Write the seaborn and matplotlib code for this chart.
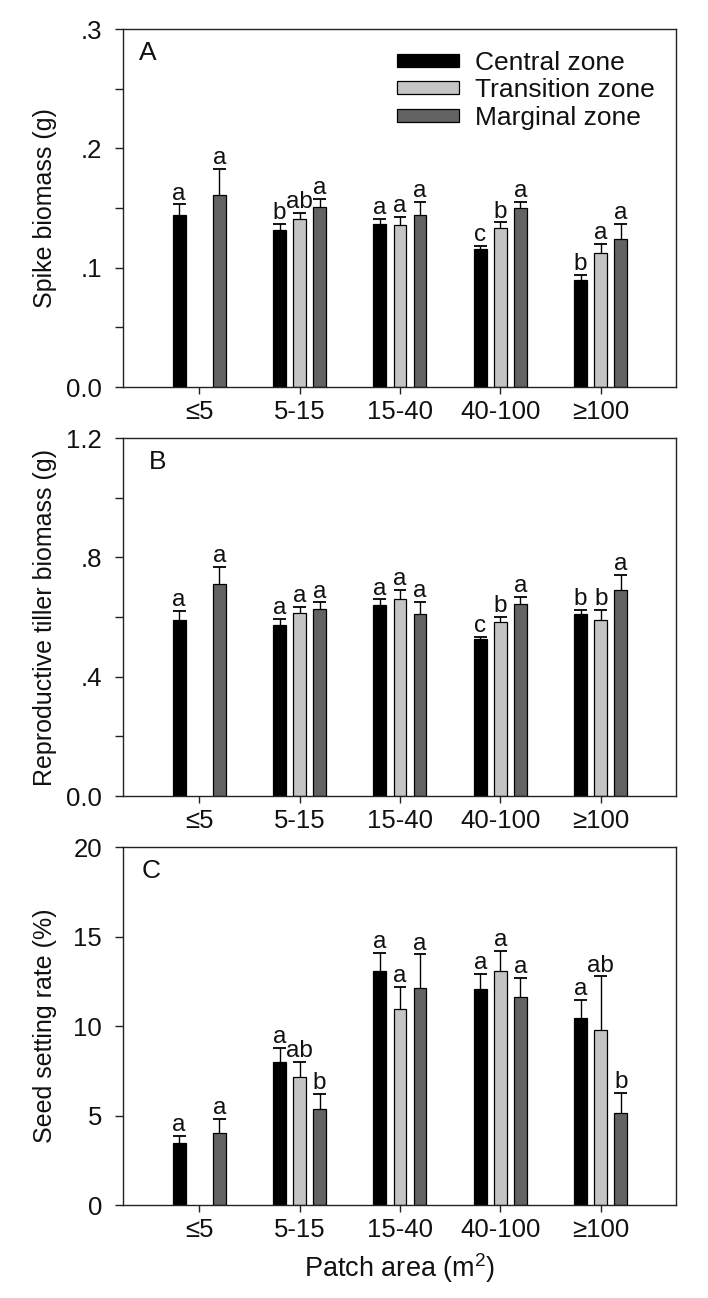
import numpy as np
import pandas as pd
import matplotlib
matplotlib.use("Agg")
import matplotlib.pyplot as plt
import matplotlib.colors as mcolors
import seaborn as sns

nan = np.nan

# Categories and zones

categories = ["≤5", "5-15", "15-40", "40-100", "≥100"]
zones = ["Central zone", "Transition zone", "Marginal zone"]
zone_colors = ["#000000", "#c4c4c4", "#636363"]

# Panel A - spike biomass (g)

spike_central = [0.144, 0.132, 0.137, 0.116, 0.090]
spike_transition = [nan, 0.141, 0.136, 0.133, 0.112]
spike_marginal = [0.161, 0.151, 0.144, 0.150, 0.124]
spike_central_se = [0.009, 0.0045, 0.004, 0.0022, 0.0042]
spike_transition_se = [nan, 0.005, 0.0067, 0.005, 0.0079]
spike_marginal_se = [0.022, 0.0065, 0.0114, 0.005, 0.0125]
spike_central_letters = ["a", "b", "a", "c", "b"]
spike_transition_letters = ["", "ab", "a", "b", "a"]
spike_marginal_letters = ["a", "a", "a", "a", "a"]

# Panel B - reproductive tiller biomass (g)

tiller_central = [0.589, 0.572, 0.640, 0.525, 0.611]
tiller_transition = [nan, 0.615, 0.659, 0.582, 0.589]
tiller_marginal = [0.711, 0.628, 0.611, 0.644, 0.692]
tiller_central_se = [0.032, 0.022, 0.019, 0.009, 0.012]
tiller_transition_se = [nan, 0.020, 0.031, 0.019, 0.036]
tiller_marginal_se = [0.057, 0.021, 0.040, 0.023, 0.048]
tiller_central_letters = ["a", "a", "a", "c", "b"]
tiller_transition_letters = ["", "a", "a", "b", "b"]
tiller_marginal_letters = ["a", "a", "a", "a", "a"]

# Panel C - seed setting rate (%)

seed_central = [3.45, 7.99, 13.05, 12.05, 10.45]
seed_transition = [nan, 7.13, 10.93, 13.07, 9.76]
seed_marginal = [4.00, 5.35, 12.14, 11.60, 5.12]
seed_central_se = [0.40, 0.80, 1.05, 0.84, 1.00]
seed_transition_se = [nan, 0.86, 1.27, 1.14, 3.01]
seed_marginal_se = [0.82, 0.85, 1.86, 1.10, 1.14]
seed_central_letters = ["a", "a", "a", "a", "a"]
seed_transition_letters = ["", "ab", "a", "a", "ab"]
seed_marginal_letters = ["a", "b", "a", "a", "b"]

# Axis settings

spike_ylim = (0, 0.3)
spike_ticks = [0.0, 0.1, 0.2, 0.3]
spike_ticklabels = ["0.0", ".1", ".2", ".3"]
spike_minor = [0.05, 0.15, 0.25]

tiller_ylim = (0, 1.2)
tiller_ticks = [0.0, 0.4, 0.8, 1.2]
tiller_ticklabels = ["0.0", ".4", ".8", "1.2"]
tiller_minor = [0.2, 0.6, 1.0]

seed_ylim = (0, 20)
seed_ticks = [0, 5, 10, 15, 20]
seed_ticklabels = ["0", "5", "10", "15", "20"]
seed_minor = []


def build_frame(values, errors, letters):
    rows = []
    for zone, vals, errs, lets in zip(zones, values, errors, letters):
        for cat, v, e, l in zip(categories, vals, errs, lets):
            rows.append({"Patch": cat, "Zone": zone, "Value": v,
                         "SE": e, "Letter": l})
    return pd.DataFrame(rows)


def draw_panel(ax, df, ylabel, ylim, ticks, ticklabels, minor, tag, tag_x,
               show_legend=False, show_xlabel=False):

    palette = dict(zip(zones, zone_colors))

    sns.barplot(
        data=df, x="Patch", y="Value", hue="Zone",
        order=categories, hue_order=zones, palette=palette,
        saturation=1, errorbar=None, width=0.6, gap=0.36,
        edgecolor="black", linewidth=0.9, ax=ax, legend=show_legend
    )

    color_to_zone = {mcolors.to_hex(c): z for z, c in palette.items()}

    # one-sided error bars and letters from the drawn bars
    for container in ax.containers:
        for bar in container:
            h = bar.get_height()
            if np.isnan(h):
                continue
            w = bar.get_width()
            x0 = bar.get_x()
            xc = x0 + w / 2
            cat = categories[int(round(xc))]
            zone = color_to_zone[mcolors.to_hex(bar.get_facecolor())]
            row = df[(df["Patch"] == cat) & (df["Zone"] == zone)].iloc[0]
            top = h + row["SE"]
            ax.vlines(xc, h, top, color="black", lw=1.0, zorder=3)
            ax.hlines(top, x0, x0 + w, color="black", lw=1.3, zorder=3)
            ax.annotate(row["Letter"], (xc, top), xytext=(0, 3.5),
                        textcoords="offset points", ha="center",
                        va="baseline", fontsize=17.5)

    ax.set_xlim(-0.76, 4.75)
    ax.set_ylim(*ylim)
    ax.set_yticks(ticks)
    ax.set_yticklabels(ticklabels)
    ax.set_yticks(minor, minor=True)

    ax.tick_params(axis="y", which="both", direction="out", length=6,
                   width=1, pad=9, labelsize=18.5, color="#222222")
    ax.tick_params(axis="x", direction="out", length=5, width=1, pad=4,
                   labelsize=18.5, color="#222222")

    for spine in ax.spines.values():
        spine.set_visible(True)
        spine.set_linewidth(1.0)
        spine.set_color("#222222")

    ax.set_ylabel(ylabel, fontsize=18)
    ax.yaxis.set_label_coords(-0.119, 0.5)

    if show_xlabel:
        ax.set_xlabel("Patch area (m$^{2}$)", fontsize=19.5, labelpad=7)
    else:
        ax.set_xlabel("")

    ax.text(tag_x, 0.967, tag, transform=ax.transAxes, ha="left",
            va="top", fontsize=19)

    if show_legend:
        old = ax.get_legend()
        handles = old.legend_handles
        labels = [t.get_text() for t in old.get_texts()]
        ax.legend(
            handles, labels, loc="upper left", bbox_to_anchor=(0.495, 0.94),
            frameon=False, fontsize=19, handlelength=2.35,
            handleheight=0.38, handletextpad=0.6, labelspacing=0.14,
            borderpad=0, borderaxespad=0
        )


def main():

    sns.set_style("ticks")
    plt.rcParams["font.family"] = ["Liberation Sans", "DejaVu Sans"]
    plt.rcParams["mathtext.fontset"] = "custom"
    plt.rcParams["mathtext.rm"] = "Liberation Sans"
    plt.rcParams["mathtext.it"] = "Liberation Sans:italic"
    plt.rcParams["text.color"] = "#111111"
    plt.rcParams["axes.labelcolor"] = "#111111"
    plt.rcParams["xtick.color"] = "#111111"
    plt.rcParams["ytick.color"] = "#111111"

    fig = plt.figure(figsize=(7.08, 12.98), dpi=100)

    left, width, height = 0.1737, 0.7811, 0.2758
    ax_a = fig.add_axes([left, 0.7018, width, height])
    ax_b = fig.add_axes([left, 0.3867, width, height])
    ax_c = fig.add_axes([left, 0.0716, width, height])

    spike = build_frame(
        [spike_central, spike_transition, spike_marginal],
        [spike_central_se, spike_transition_se, spike_marginal_se],
        [spike_central_letters, spike_transition_letters,
         spike_marginal_letters]
    )
    tiller = build_frame(
        [tiller_central, tiller_transition, tiller_marginal],
        [tiller_central_se, tiller_transition_se, tiller_marginal_se],
        [tiller_central_letters, tiller_transition_letters,
         tiller_marginal_letters]
    )
    seed = build_frame(
        [seed_central, seed_transition, seed_marginal],
        [seed_central_se, seed_transition_se, seed_marginal_se],
        [seed_central_letters, seed_transition_letters,
         seed_marginal_letters]
    )

    draw_panel(ax_a, spike, "Spike biomass (g)", spike_ylim, spike_ticks,
               spike_ticklabels, spike_minor, "A", 0.029, show_legend=True)
    draw_panel(ax_b, tiller, "Reproductive tiller biomass (g)", tiller_ylim,
               tiller_ticks, tiller_ticklabels, tiller_minor, "B", 0.047)
    draw_panel(ax_c, seed, "Seed setting rate (%)", seed_ylim, seed_ticks,
               seed_ticklabels, seed_minor, "C", 0.034, show_xlabel=True)

    fig.savefig("out.png", dpi=100, facecolor="white")


if __name__ == "__main__":
    main()
